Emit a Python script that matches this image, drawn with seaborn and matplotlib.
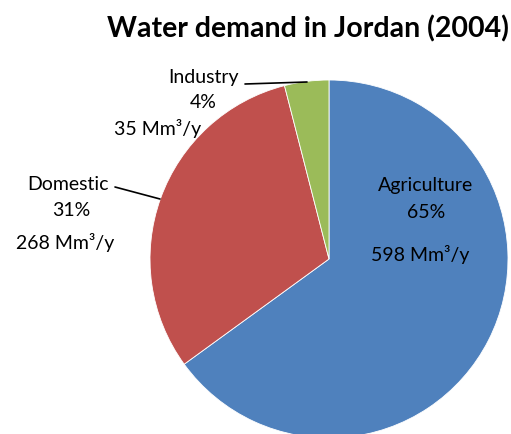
import matplotlib.pyplot as plt
import seaborn as sns

sns.set_style('white')
plt.rcParams['font.family'] = ['Lato', 'DejaVu Sans']

sectors = ['Agriculture', 'Domestic', 'Industry']
shares = [65, 31, 4]
demand = [598, 268, 35]
colors = ['#4F81BD', '#C0504D', '#9BBB59']

W, H = 511, 434
CX, CY, R = 329, 259, 179


def px(x, y):
    # pixel position -> data coords of the pie axes
    return (x - CX) / R, (CY - y) / R


fig = plt.figure(figsize=(W / 100, H / 100), dpi=100)
ax = fig.add_axes([0, 0, 1, 1])
ax.pie(shares, colors=colors, startangle=90, counterclock=False, radius=1,
       wedgeprops=dict(edgecolor='white', linewidth=0.6))
ax.set_xlim(px(0, 0)[0], px(W, 0)[0])
ax.set_ylim(px(0, H)[1], px(0, 0)[1])
ax.set_aspect('equal')
ax.axis('off')

fs = 14
# label positions in pixels: (name, pct, value) line centres
label_pos = {
    'Agriculture': [(426, 186), (426, 212), (420, 255)],
    'Domestic': [(68, 184), (71, 211), (65, 242)],
    'Industry': [(203, 78), (203, 103), (158, 128)],
}
for name, pct, val in zip(sectors, shares, demand):
    lines = [name, f'{pct}%', f'{val} Mm³/y']
    for txt, (x, y) in zip(lines, label_pos[name]):
        ax.text(*px(x, y), txt, ha='center', va='center', fontsize=fs, color='black')

# leader lines
for (x0, y0), (x1, y1) in [((115, 187), (160, 199)), ((245, 84), (307, 82))]:
    a, b = px(x0, y0), px(x1, y1)
    ax.plot([a[0], b[0]], [a[1], b[1]], color='black', lw=1.2)

fig.text(308 / W, 1 - 29 / H, 'Water demand in Jordan (2004)', ha='center', va='center',
         fontsize=20.5, fontweight='bold', color='black')

fig.savefig('out.png', dpi=100)
